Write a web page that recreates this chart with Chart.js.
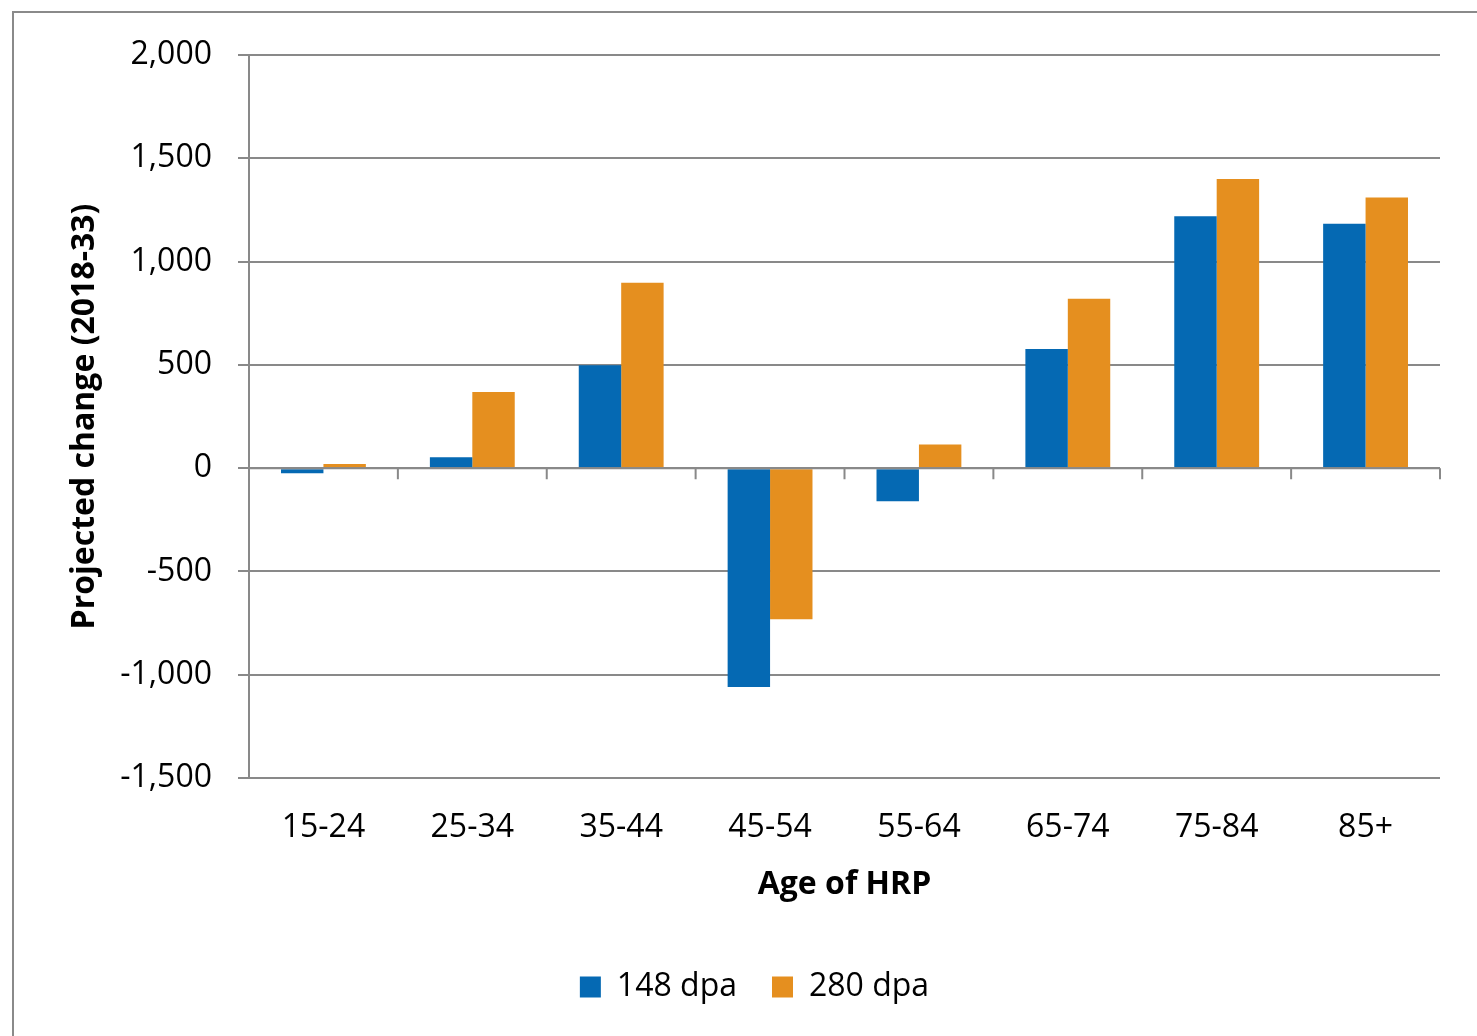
<!DOCTYPE html>
<html>
<head>
<meta charset="utf-8">
<script src="https://cdn.jsdelivr.net/npm/chart.js@4"></script>
<style>
  body { margin: 0; background: #fff; overflow: hidden; }
  #wrap { position: absolute; left: 0; top: 0; width: 1477px; height: 1036px; }
  #frame { position: absolute; left: 12px; top: 11px; width: 2000px; height: 2000px; border: 2px solid #8a8a8a; }
  canvas { position: absolute; left: 0; top: 0; }
</style>
</head>
<body>
<div id="frame"></div>
<div id="wrap"><canvas id="grafico"></canvas></div>
<script>
const categorias = ['15-24', '25-34', '35-44', '45-54', '55-64', '65-74', '75-84', '85+'];
const dpa148 = [-25, 53, 498, -1060, -160, 577, 1220, 1183];
const dpa280 = [20, 368, 897, -732, 115, 820, 1400, 1310];
const yTicks = [-1500, -1000, -500, 0, 500, 1000, 1500, 2000];

const CINZA = '#898989';
const FONTE = '"Open Sans", "Liberation Sans", sans-serif';

// marcas no eixo zero entre as categorias
const marcasZero = {
    id: 'marcasZero',
    afterDatasetsDraw(chart) {
        const x = chart.scales.x;
        const y = chart.scales.y;
        const y0 = y.getPixelForValue(0);
        const ctx = chart.ctx;
        ctx.save();
        ctx.strokeStyle = CINZA;
        ctx.lineWidth = 2;
        ctx.beginPath();
        ctx.moveTo(x.left, y0);
        ctx.lineTo(x.right, y0);
        for (let i = 0; i <= categorias.length; i++) {
            const px = x.getPixelForValue(i - 0.5);
            ctx.moveTo(px, y0);
            ctx.lineTo(px, y0 + 11);
        }
        ctx.stroke();
        ctx.restore();
    }
};

new Chart(document.getElementById('grafico'), {
    type: 'bar',
    data: {
        labels: categorias,
        datasets: [
            { label: '148 dpa', data: dpa148, backgroundColor: '#0569B3' },
            { label: '280 dpa', data: dpa280, backgroundColor: '#E58F1F' }
        ]
    },
    options: {
        responsive: true,
        maintainAspectRatio: false,
        animation: false,
        layout: { padding: { left: 69, right: 37, top: 55, bottom: 23 } },
        datasets: { bar: { categoryPercentage: 0.57, barPercentage: 1 } },
        plugins: {
            tooltip: { enabled: false },
            legend: {
                position: 'bottom',
                labels: {
                    boxWidth: 21,
                    boxHeight: 21,
                    padding: 35,
                    color: '#000',
                    font: { family: FONTE, size: 32 }
                }
            }
        },
        scales: {
            x: {
                grid: { display: false, drawTicks: false },
                border: { display: false },
                ticks: { color: '#000', padding: 31, font: { family: FONTE, size: 32 } },
                title: {
                    display: true,
                    text: 'Age of HRP',
                    color: '#000',
                    font: { family: FONTE, size: 32, weight: 'bold' },
                    padding: { top: 0, bottom: 32 }
                },
                afterFit(scale) { scale.height = 158; }
            },
            y: {
                min: -1500,
                max: 2000,
                afterBuildTicks(scale) { scale.ticks = yTicks.map(v => ({ value: v })); },
                grid: { color: CINZA, lineWidth: 2, tickLength: 11 },
                border: { display: true, color: CINZA, width: 2 },
                ticks: {
                    color: '#000',
                    padding: 26,
                    font: { family: FONTE, size: 32 },
                    callback: v => v.toLocaleString('en-US')
                },
                title: {
                    display: true,
                    text: 'Projected change (2018-33)',
                    color: '#000',
                    font: { family: FONTE, size: 32, weight: 'bold', lineHeight: 1 },
                    padding: { top: 0, bottom: 0 }
                },
                afterFit(scale) { scale.width = 180; }
            }
        }
    },
    plugins: [marcasZero]
});
</script>
</body>
</html>
